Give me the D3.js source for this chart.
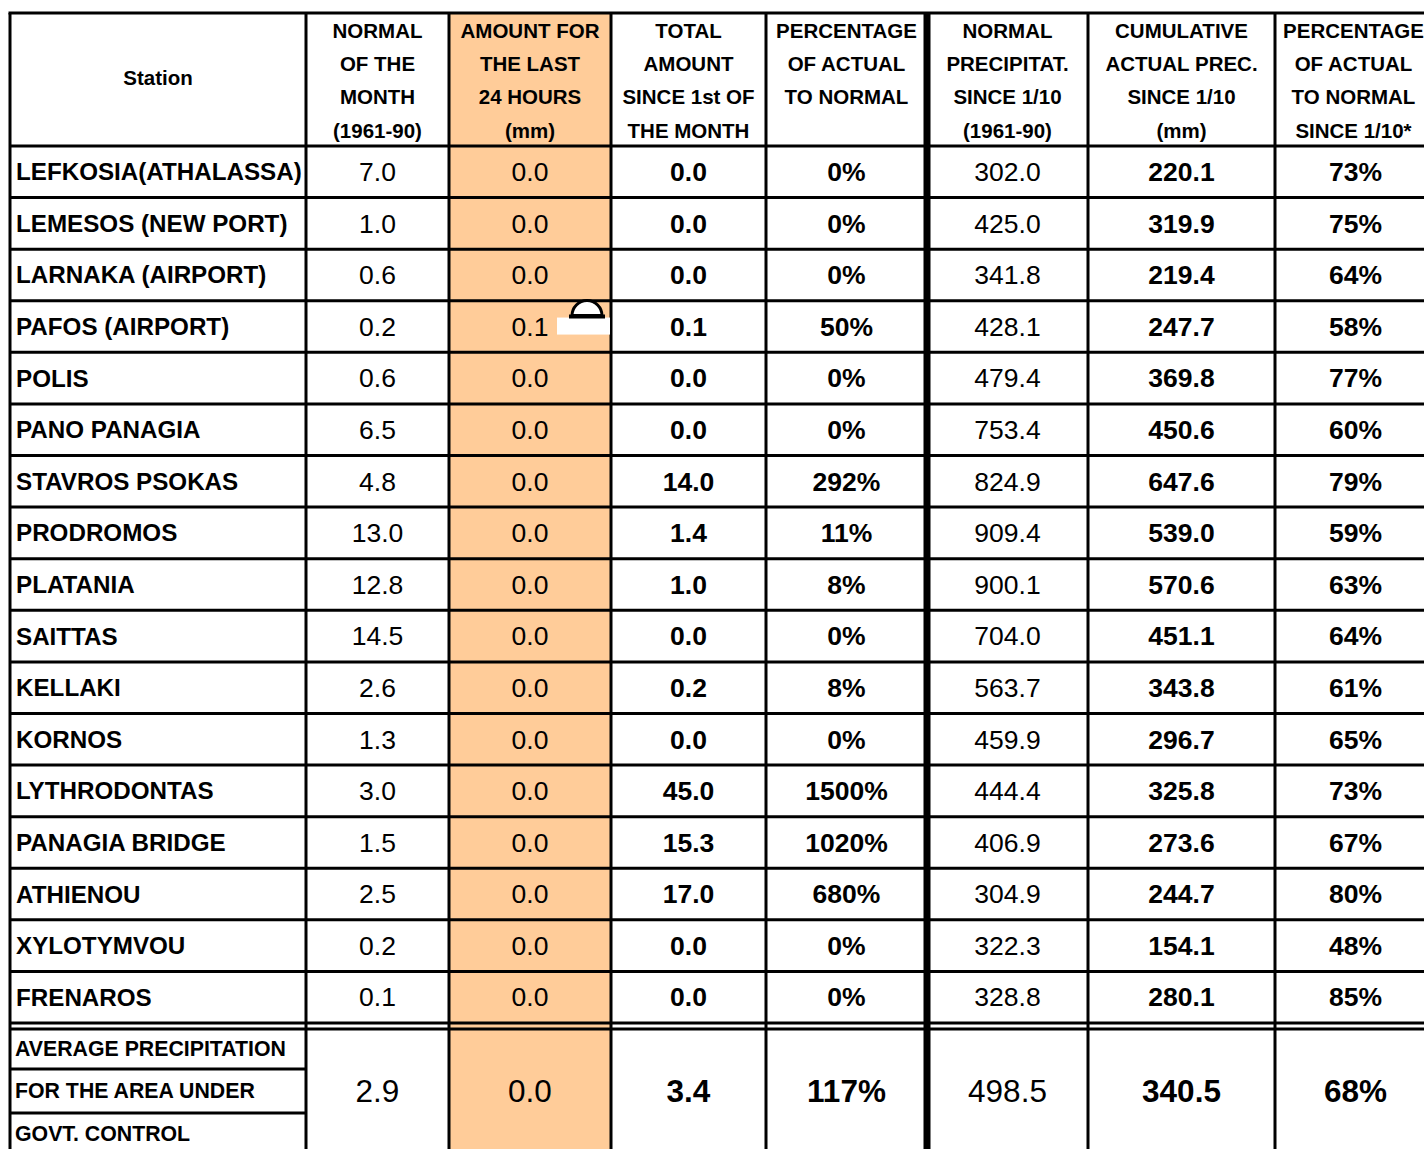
<!DOCTYPE html>
<html><head><meta charset="utf-8">
<script src="https://cdn.jsdelivr.net/npm/d3@7"></script>
<style>html,body{margin:0;padding:0;background:#fff;overflow:hidden}</style>
</head><body>
<script>
// ---------- data ----------
const headers = [
  ["Station"],
  ["NORMAL","OF THE","MONTH","(1961-90)"],
  ["AMOUNT FOR","THE LAST","24 HOURS","(mm)"],
  ["TOTAL","AMOUNT","SINCE 1st OF","THE MONTH"],
  ["PERCENTAGE","OF ACTUAL","TO NORMAL"],
  ["NORMAL","PRECIPITAT.","SINCE 1/10","(1961-90)"],
  ["CUMULATIVE","ACTUAL PREC.","SINCE 1/10","(mm)"],
  ["PERCENTAGE","OF ACTUAL","TO NORMAL","SINCE 1/10*"]
];
const stations = ["LEFKOSIA(ATHALASSA)","LEMESOS (NEW PORT)","LARNAKA (AIRPORT)","PAFOS (AIRPORT)","POLIS","PANO PANAGIA","STAVROS PSOKAS","PRODROMOS","PLATANIA","SAITTAS","KELLAKI","KORNOS","LYTHRODONTAS","PANAGIA BRIDGE","ATHIENOU","XYLOTYMVOU","FRENAROS"];
const normalMonth = [7.0,1.0,0.6,0.2,0.6,6.5,4.8,13.0,12.8,14.5,2.6,1.3,3.0,1.5,2.5,0.2,0.1];
const last24h = [0.0,0.0,0.0,0.1,0.0,0.0,0.0,0.0,0.0,0.0,0.0,0.0,0.0,0.0,0.0,0.0,0.0];
const totalMonth = [0.0,0.0,0.0,0.1,0.0,0.0,14.0,1.4,1.0,0.0,0.2,0.0,45.0,15.3,17.0,0.0,0.0];
const pctMonth = [0,0,0,50,0,0,292,11,8,0,8,0,1500,1020,680,0,0];
const normalSince = [302.0,425.0,341.8,428.1,479.4,753.4,824.9,909.4,900.1,704.0,563.7,459.9,444.4,406.9,304.9,322.3,328.8];
const cumActual = [220.1,319.9,219.4,247.7,369.8,450.6,647.6,539.0,570.6,451.1,343.8,296.7,325.8,273.6,244.7,154.1,280.1];
const pctSince = [73,75,64,58,77,60,79,59,63,64,61,65,73,67,80,48,85];
const summaryLabel = ["AVERAGE PRECIPITATION","FOR THE AREA UNDER","GOVT. CONTROL"];
const summaryValues = [2.9, 0.0, 3.4, 117, 498.5, 340.5, 68];

// ---------- layout ----------
const W = 1424, H = 1149;
const colEdges = [10, 306, 449, 611, 766, 927, 1088, 1275, 1436];
const tableTop = 13, headBottom = 146, bodyBottom = 1023, sumTop = 1029;
const orange = "#FFCC99";
const font = "'Liberation Sans', Arial, sans-serif";

const svg = d3.select("body").append("svg").attr("width", W).attr("height", H)
  .style("font-family", font);

const y = d3.scaleLinear().domain([0, stations.length]).range([headBottom, bodyBottom]);
const colCenter = i => (colEdges[i] + colEdges[i+1]) / 2;

const f1 = d3.format(".1f");
const fp = v => v + "%";
const cols = [
  null,
  {vals: normalMonth, fmt: f1, bold: false},
  {vals: last24h, fmt: f1, bold: false},
  {vals: totalMonth, fmt: f1, bold: true},
  {vals: pctMonth, fmt: fp, bold: true},
  {vals: normalSince, fmt: f1, bold: false},
  {vals: cumActual, fmt: f1, bold: true},
  {vals: pctSince, fmt: fp, bold: true}
];

// orange column
svg.append("rect").attr("x", colEdges[2]).attr("y", tableTop).attr("width", colEdges[3]-colEdges[2])
  .attr("height", H-tableTop).attr("fill", orange);

// header text
const hdrCenters = [31, 64, 97, 131];
headers.forEach((lines, ci) => {
  const g = svg.append("g");
  if (ci === 0) {
    g.append("text").attr("x", colCenter(0)).attr("y", 78).attr("dy", "0.35em")
      .attr("text-anchor", "middle").attr("font-weight", "bold").attr("font-size", 20.5)
      .text(lines[0]);
  } else {
    lines.forEach((t, li) => {
      g.append("text").attr("x", colCenter(ci) - (ci === 7 ? 2 : 0)).attr("y", hdrCenters[li]).attr("dy", "0.35em")
        .attr("text-anchor", "middle").attr("font-weight", "bold").attr("font-size", 20.5)
        .text(t);
    });
  }
});

// body rows
const rows = svg.append("g").selectAll("g").data(stations).join("g")
  .attr("transform", (d, i) => `translate(0,${(y(i)+y(i+1))/2})`);
rows.append("text").attr("x", 16).attr("dy", "0.35em").attr("font-weight", "bold")
  .attr("font-size", 24.2).text(d => d);
for (let ci = 1; ci < cols.length; ci++) {
  const c = cols[ci];
  rows.append("text").attr("x", colCenter(ci)).attr("dy", "0.35em").attr("text-anchor", "middle")
    .attr("font-weight", c.bold ? "bold" : "normal").attr("font-size", 26.5)
    .attr("fill", "#000")
    .text((d, i) => c.fmt(c.vals[i]));
}

// summary block
const sumLines = [sumTop, 1069, 1113, 1157];
const sumLabelY = [1049, 1091, 1134];
summaryLabel.forEach((t, i) => {
  svg.append("text").attr("x", 15).attr("y", sumLabelY[i]).attr("dy", "0.35em")
    .attr("font-weight", "bold").attr("font-size", 21.3).text(t);
});
summaryValues.forEach((v, k) => {
  const ci = k + 1, c = cols[ci];
  svg.append("text").attr("x", colCenter(ci)).attr("y", 1091).attr("dy", "0.35em")
    .attr("text-anchor", "middle").attr("font-weight", c.bold ? "bold" : "normal")
    .attr("font-size", 31.5).text(c.fmt(v));
});

// grid lines
const gl = svg.append("g").attr("stroke", "#000").attr("stroke-width", 3);
gl.append("line").attr("x1", colEdges[0]-1.5).attr("x2", W).attr("y1", tableTop).attr("y2", tableTop);
d3.range(0, stations.length + 1).forEach(i => {
  gl.append("line").attr("x1", colEdges[0]).attr("x2", W).attr("y1", y(i)).attr("y2", y(i));
});
gl.append("line").attr("x1", colEdges[0]).attr("x2", W).attr("y1", sumTop).attr("y2", sumTop);
[sumLines[1], sumLines[2]].forEach(yy => gl.append("line").attr("x1", colEdges[0]).attr("x2", colEdges[1]).attr("y1", yy).attr("y2", yy));
colEdges.slice(0, 8).forEach((x, i) => {
  gl.append("line").attr("x1", x).attr("x2", x).attr("y1", tableTop).attr("y2", H)
    .attr("stroke-width", i === 5 ? 7 : 3);
});

// marker overlay in PAFOS row (as in source)
const py = (y(3)+y(4))/2;
svg.append("rect").attr("x", 557).attr("y", py - 9).attr("width", 53).attr("height", 17).attr("fill", "#fff");
svg.append("path").attr("d", d3.arc()({innerRadius: 0, outerRadius: 15, startAngle: -Math.PI/2, endAngle: Math.PI/2}))
  .attr("transform", `translate(587,${py-11})`).attr("fill", "#fff").attr("stroke", "#000").attr("stroke-width", 3);
svg.append("line").attr("x1", 569).attr("x2", 605).attr("y1", py-10).attr("y2", py-10)
  .attr("stroke", "#000").attr("stroke-width", 4);
</script>
</body></html>
